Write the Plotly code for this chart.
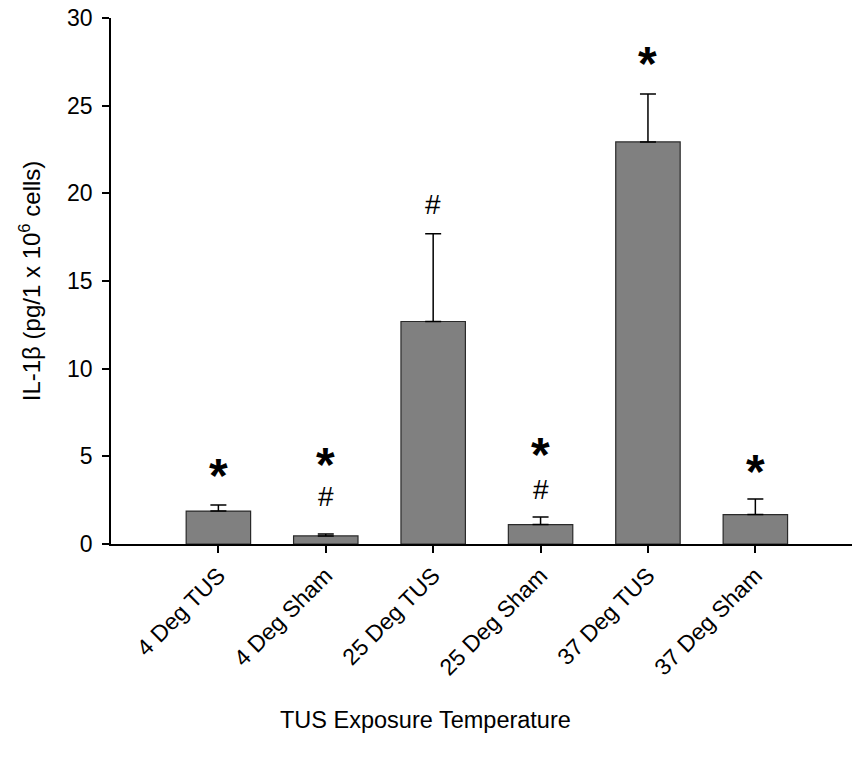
import plotly.graph_objects as go

# IL-1beta release per exposure group
categories = ["4 Deg TUS", "4 Deg Sham", "25 Deg TUS", "25 Deg Sham", "37 Deg TUS", "37 Deg Sham"]
means = [1.88, 0.46, 12.69, 1.11, 22.93, 1.68]
sem_upper = [0.35, 0.11, 5.0, 0.43, 2.74, 0.89]

# significance markers (category index, y position)
star_marks = [(0, 4.2), (1, 4.8), (3, 5.4), (4, 27.7), (5, 4.4)]
hash_marks = [(1, 2.7), (2, 19.35), (3, 3.1)]

y_ticks = [0, 5, 10, 15, 20, 25, 30]

FONT = "Arial, Liberation Sans, sans-serif"
x_pos = list(range(len(categories)))

fig = go.Figure()
fig.add_trace(go.Bar(
    x=x_pos,
    y=means,
    width=0.6,
    marker=dict(color="#808080", line=dict(color="#2a2a2a", width=1.2)),
    error_y=dict(type="data", array=sem_upper, arrayminus=[0] * len(means),
                 symmetric=False, color="black", thickness=1.5, width=8),
    showlegend=False,
))

annotations = []
for i, y in star_marks:
    annotations.append(dict(x=i, y=y, xref="x", yref="y", text="<b>*</b>",
                            showarrow=False, font=dict(family=FONT, size=48, color="black"),
                            yanchor="middle", yshift=-5))
for i, y in hash_marks:
    annotations.append(dict(x=i, y=y, xref="x", yref="y", text="#",
                            showarrow=False, font=dict(family=FONT, size=28, color="black"),
                            yanchor="middle"))

annotations.append(dict(
    x=-0.109, y=0.50, xref="paper", yref="paper", xanchor="center", yanchor="middle",
    text="IL-1β (pg/1 x 10<sup>6</sup> cells)", textangle=-90, showarrow=False,
    font=dict(family=FONT, size=24, color="black"),
))
annotations.append(dict(
    x=0.424, y=-0.335, xref="paper", yref="paper", xanchor="center", yanchor="middle",
    text="TUS Exposure Temperature", showarrow=False,
    font=dict(family=FONT, size=23.5, color="black"),
))

fig.update_layout(
    width=854, height=770,
    margin=dict(l=111, r=2, t=18, b=226),
    paper_bgcolor="white", plot_bgcolor="white",
    font=dict(family=FONT, size=23, color="black"),
    annotations=annotations,
    xaxis=dict(
        range=[-1.0, 5.9], tickmode="array", tickvals=x_pos, ticktext=categories,
        tickangle=-45, ticks="outside", ticklen=7, tickwidth=1.5, tickcolor="black",
        showline=True, linecolor="black", linewidth=2, showgrid=False, zeroline=False,
        tickfont=dict(family=FONT, size=23),
    ),
    yaxis=dict(
        range=[0, 30], tickmode="array", tickvals=y_ticks,
        ticks="outside", ticklen=7, tickwidth=1.5, tickcolor="black",
        showline=True, linecolor="black", linewidth=1.5, showgrid=False, zeroline=False,
        tickfont=dict(family=FONT, size=23), ticklabelstandoff=5,
    ),
)

fig.write_html("out.html")
